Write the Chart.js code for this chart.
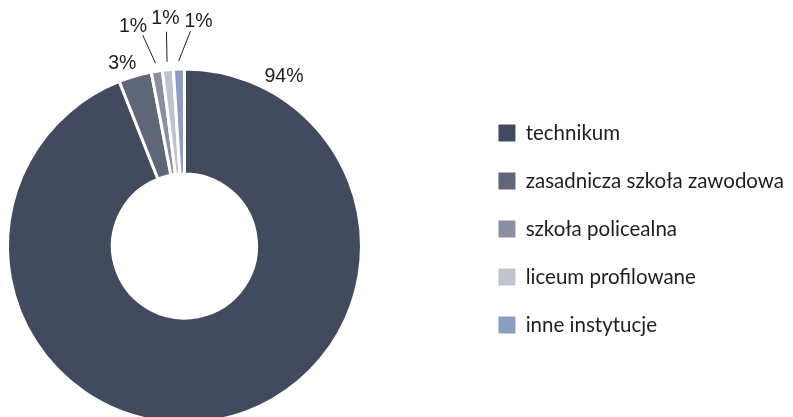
<!DOCTYPE html>
<html lang="pl">
<head>
	<meta charset="UTF-8">
	<title>Doughnut</title>
	<script src="https://cdn.jsdelivr.net/npm/chart.js"></script>
	<style>
		html, body { margin: 0; padding: 0; background: #fff; overflow: hidden; width: 793px; height: 417px; }
		/* canvas starts left of the window so the doughnut sits at the left edge */
		.wrap { position: absolute; left: -102px; top: 0; width: 900px; height: 458px; }
	</style>
</head>
<body>
	<div class="wrap" id="wrap"><canvas id="pieChart"></canvas></div>

	<script type="text/javascript">
		var labels = ['technikum', 'zasadnicza szkoła zawodowa', 'szkoła policealna', 'liceum profilowane', 'inne instytucje'];
		var values = [94, 3, 1, 1, 1];
		var colors = ['#424a5e', '#5f6678', '#8a8fa0', '#c0c3ce', '#8d9dc2'];

		var deg = Math.PI / 180;
		var legendFont = { family: 'Lato', size: 20.5 };
		var legendPad = 27.5;

		// legend width is measured so the chart area ends at the same x every time
		var m = document.createElement('canvas').getContext('2d');
		m.font = legendFont.size + 'px ' + legendFont.family;
		var textW = Math.max.apply(null, labels.map(function (t) { return m.measureText(t).width; }));
		var legendW = legendPad + 17 + legendFont.size / 2 + textW + 10;
		document.getElementById('wrap').style.width = Math.round(572.5 + legendW) + 'px';

		// percent labels around the ring, small slices get leader lines
		var percentLabels = {
			id: 'percentLabels',
			afterDatasetsDraw: function (chart) {
				var ctx = chart.ctx;
				var arcs = chart.getDatasetMeta(0).data;
				var small = [];
				ctx.save();
				ctx.font = '19.5px "Liberation Sans", Arial, sans-serif';
				ctx.fillStyle = '#1e1e1e';
				ctx.strokeStyle = '#1e1e1e';
				ctx.lineWidth = 1;
				ctx.textAlign = 'center';
				ctx.textBaseline = 'middle';
				arcs.forEach(function (arc, i) {
					var p = arc.getProps(['x', 'y', 'startAngle', 'endAngle', 'outerRadius'], true);
					var mid = (p.startAngle + p.endAngle) / 2;
					var text = values[i] + '%';
					if (values[i] < 2) {
						small.push({p: p, mid: mid, text: text});
						return;
					}
					var a = i === 0 ? p.startAngle + 30.5 * deg : mid - 2.6 * deg;
					var r = p.outerRadius + (i === 0 ? 19 : 16);
					ctx.fillText(text, p.x + r * Math.cos(a), p.y + r * Math.sin(a));
				});
				if (small.length) {
					var c = 0;
					small.forEach(function (s) { c += s.mid; });
					c = c / small.length + 0.6 * deg;
					var half = (small.length - 1) / 2;
					small.forEach(function (s, j) {
						var p = s.p;
						var R = p.outerRadius;
						var aEnd = c + (j - half) * 6.4 * deg;
						var aText = c + (j - half) * 8.4 * deg;
						var rText = R + 51 - Math.abs(j - half) * 3;
						ctx.beginPath();
						ctx.moveTo(p.x + (R + 8) * Math.cos(s.mid), p.y + (R + 8) * Math.sin(s.mid));
						ctx.lineTo(p.x + (R + 38) * Math.cos(aEnd), p.y + (R + 38) * Math.sin(aEnd));
						ctx.stroke();
						ctx.fillText(s.text, p.x + rText * Math.cos(aText), p.y + rText * Math.sin(aText));
					});
				}
				ctx.restore();
			}
		};

		var ctx = document.getElementById('pieChart').getContext('2d');
		var myChart = new Chart(ctx, {
			type: 'doughnut',
			data: {
				labels: labels,
				datasets: [{
					data: values,
					backgroundColor: colors,
					borderColor: '#ffffff',
					borderWidth: 3,
					radius: 177,
					cutout: '40.7%'
				}]
			},
			options: {
				responsive: true,
				maintainAspectRatio: false,
				animation: false,
				plugins: {
					tooltip: { enabled: false },
					title: {
						display: true,
						text: '',
						padding: 0,
						font: { lineHeight: '34px' }
					},
					legend: {
						position: 'right',
						labels: {
							boxWidth: 17,
							boxHeight: 17,
							padding: legendPad,
							color: '#1e1e1e',
							font: legendFont,
							generateLabels: function (chart) {
								var items = Chart.overrides.doughnut.plugins.legend.labels.generateLabels(chart);
								items.forEach(function (it) { it.lineWidth = 0; });
								return items;
							}
						}
					}
				}
			},
			plugins: [percentLabels]
		});
	</script>
</body>
</html>
